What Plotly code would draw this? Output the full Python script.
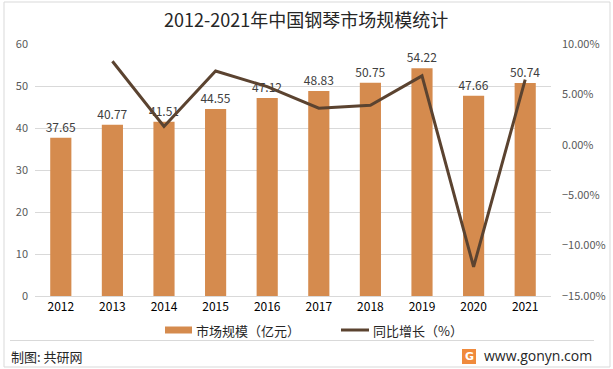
import plotly.graph_objects as go

years = ["2012", "2013", "2014", "2015", "2016", "2017", "2018", "2019", "2020", "2021"]
market_size = [37.65, 40.77, 41.51, 44.55, 47.12, 48.83, 50.75, 54.22, 47.66, 50.74]
growth_years = ["2013", "2014", "2015", "2016", "2017", "2018", "2019", "2020", "2021"]
growth = [0.0829, 0.0182, 0.0732, 0.0577, 0.0363, 0.0393, 0.0684, -0.1210, 0.0646]

W, H = 613, 369
L, R, T, B = 35, 551, 44, 296
FONT = "Noto Sans CJK SC"
BAR_C = "#D58B4E"
LINE_C = "#5B4330"

def px(x):
    return (x - L) / (R - L)

def py(y):
    return (B - y) / (B - T)

fig = go.Figure()
fig.add_trace(go.Bar(
    x=years, y=market_size, name="市场规模（亿元）",
    marker=dict(color=BAR_C, line=dict(width=0)),
    text=[f"{v:.2f}" for v in market_size], textposition="outside",
    textfont=dict(family=FONT, size=12, color="#404040"),
    constraintext="none",
    cliponaxis=False, yaxis="y", showlegend=False,
))
fig.add_trace(go.Scatter(
    x=growth_years, y=growth, name="同比增长（%）", mode="lines",
    line=dict(color=LINE_C, width=3), yaxis="y2", showlegend=False,
))

shapes = [
    dict(type="rect", xref="paper", yref="paper", x0=px(4), x1=px(610), y0=py(2), y1=py(367),
         line=dict(color="#D9D9D9", width=1), fillcolor="rgba(0,0,0,0)", layer="below"),
    dict(type="line", xref="paper", yref="paper", x0=px(10), x1=px(594), y0=py(340.5), y1=py(340.5),
         line=dict(color="#D9D9D9", width=1)),
    dict(type="rect", xref="paper", yref="paper", x0=px(165), x1=px(192), y0=py(326.5), y1=py(333.5),
         line=dict(width=0), fillcolor=BAR_C),
    dict(type="line", xref="paper", yref="paper", x0=px(341), x1=px(369), y0=py(330), y1=py(330),
         line=dict(color=LINE_C, width=3)),
    dict(type="rect", xref="paper", yref="paper", x0=px(462), x1=px(476), y0=py(349), y1=py(364),
         line=dict(width=0), fillcolor="#F08A3C"),
]

annotations = [
    dict(text="2012-2021年中国钢琴市场规模统计", xref="paper", yref="paper", x=px(306), y=py(19),
         xanchor="center", yanchor="middle", showarrow=False,
         font=dict(family=FONT, size=18, color="#262626")),
    dict(text="市场规模（亿元）", xref="paper", yref="paper", x=px(194), y=py(330),
         xanchor="left", yanchor="middle", showarrow=False,
         font=dict(family=FONT, size=13, color="#262626")),
    dict(text="同比增长（%）", xref="paper", yref="paper", x=px(371), y=py(330),
         xanchor="left", yanchor="middle", showarrow=False,
         font=dict(family=FONT, size=13, color="#262626")),
    dict(text="制图: 共研网", xref="paper", yref="paper", x=px(9), y=py(356),
         xanchor="left", yanchor="middle", showarrow=False,
         font=dict(family=FONT, size=13, color="#262626")),
    dict(text="<b>G</b>", xref="paper", yref="paper", x=px(469), y=py(356.5),
         xanchor="center", yanchor="middle", showarrow=False,
         font=dict(family="DejaVu Sans", size=11, color="white")),
    dict(text="www.gonyn.com", xref="paper", yref="paper", x=px(482), y=py(355),
         xanchor="left", yanchor="middle", showarrow=False,
         font=dict(family="Open Sans", size=14, color="#262626")),
]

fig.update_layout(
    width=W, height=H,
    margin=dict(l=L, r=W - R, t=T, b=H - B, pad=0, autoexpand=False),
    paper_bgcolor="white", plot_bgcolor="white",
    bargap=0.59,
    showlegend=False,
    font=dict(family=FONT, size=11, color="#595959"),
    xaxis=dict(
        type="category", categoryorder="array", categoryarray=years,
        showgrid=False, showline=True, linecolor="#D9D9D9", linewidth=1,
        ticks="", tickfont=dict(family=FONT, size=12, color="#000000"),
        fixedrange=True,
    ),
    yaxis=dict(
        range=[0, 60], dtick=10, showgrid=True, gridcolor="#D9D9D9", gridwidth=1,
        zeroline=False, showline=False, ticks="",
        tickfont=dict(family=FONT, size=11, color="#595959"), ticklabelstandoff=6,
    ),
    yaxis2=dict(
        range=[-0.15, 0.10], dtick=0.05, tickformat=".2%", overlaying="y", side="right",
        showgrid=False, zeroline=False, showline=False, ticks="",
        tickfont=dict(family=FONT, size=11, color="#595959"), ticklabelstandoff=10,
    ),
    shapes=shapes,
    annotations=annotations,
)

fig.write_html("out.html", config={"displayModeBar": False},
               post_script="document.body.style.margin='0';document.body.style.overflow='hidden';")
